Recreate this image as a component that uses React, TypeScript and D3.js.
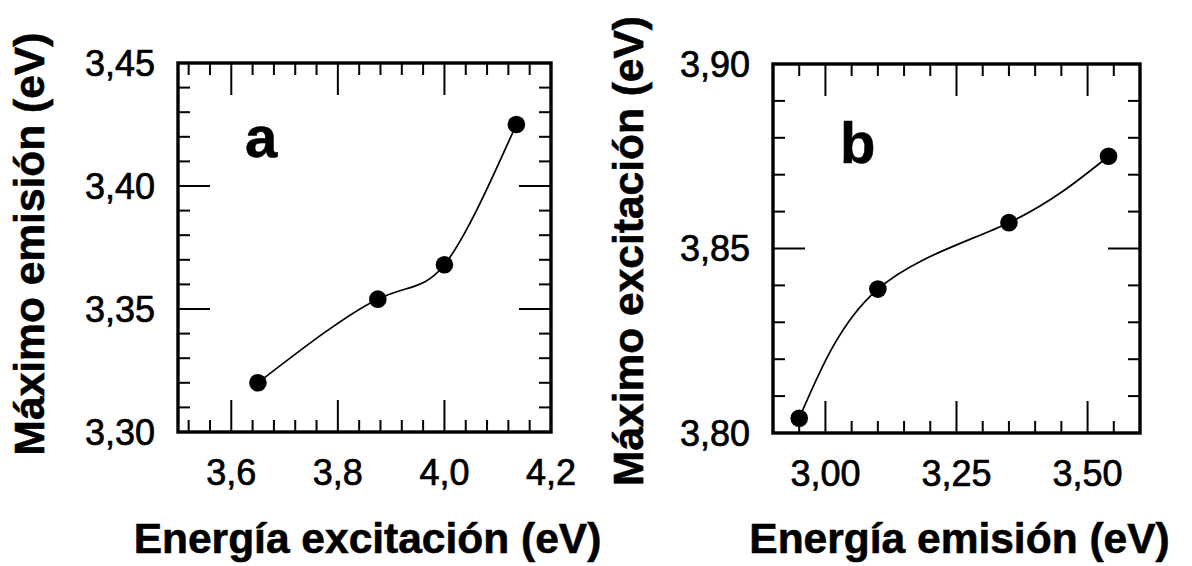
import React from "react";
import * as d3 from "d3";

// Panel a data
const excitacionA = [3.65, 3.875, 4.0, 4.135];
const emisionA = [3.32, 3.354, 3.368, 3.425];
// Panel b data
const emisionB = [2.95, 3.1, 3.35, 3.54];
const excitacionB = [3.804, 3.839, 3.857, 3.875];

// Tick values
const xMajorA = [3.6, 3.8, 4.0, 4.2];
const xMinorA = [3.52, 3.56, 3.64, 3.68, 3.72, 3.76, 3.84, 3.88, 3.92, 3.96, 4.04, 4.08, 4.12, 4.16];
const yMajorA = [3.3, 3.35, 3.4, 3.45];
const yMinorA = [3.31, 3.32, 3.33, 3.34, 3.36, 3.37, 3.38, 3.39, 3.41, 3.42, 3.43, 3.44];
const xMajorB = [3.0, 3.25, 3.5];
const xMinorB = [2.95, 3.05, 3.1, 3.15, 3.2, 3.3, 3.35, 3.4, 3.45, 3.55];
const yMajorB = [3.8, 3.85, 3.9];
const yMinorB = [3.81, 3.82, 3.83, 3.84, 3.86, 3.87, 3.88, 3.89];

const FONT = "'Liberation Sans', Arial, Helvetica, sans-serif";

type PanelProps = {
  xs: number[];
  ys: number[];
  xDomain: [number, number];
  yDomain: [number, number];
  xRange: [number, number];
  yRange: [number, number];
  xMajor: number[];
  xMinor: number[];
  yMajor: number[];
  yMinor: number[];
  xDigits: number;
  yDigits: number;
  xTitle: string;
  yTitle: string;
  yTitleX: number;
  yTitleY: number;
  xTitleY: number;
  label: string;
  labelX: number;
  labelY: number;
};

function fmt(v: number, d: number) {
  return v.toFixed(d).replace(".", ",");
}

function Panel(p: PanelProps) {
  const x = d3.scaleLinear().domain(p.xDomain).range(p.xRange);
  const y = d3.scaleLinear().domain(p.yDomain).range(p.yRange);
  const [x0, x1] = p.xRange;
  const [y0, y1] = p.yRange; // y0 bottom, y1 top
  const MAJ = 32;
  const MIN = 12;
  const line = d3
    .line<number>()
    .x((_, i) => x(p.xs[i]))
    .y((d) => y(d))
    .curve(d3.curveNatural);
  const ticks: JSX.Element[] = [];
  p.xMajor.forEach((v, i) => {
    const px = x(v);
    ticks.push(<line key={"xM" + i} x1={px} x2={px} y1={y0} y2={y0 - MAJ} />);
    ticks.push(<line key={"xMt" + i} x1={px} x2={px} y1={y1} y2={y1 + MAJ} />);
  });
  p.xMinor.forEach((v, i) => {
    const px = x(v);
    ticks.push(<line key={"xm" + i} x1={px} x2={px} y1={y0} y2={y0 - MIN} />);
    ticks.push(<line key={"xmt" + i} x1={px} x2={px} y1={y1} y2={y1 + MIN} />);
  });
  p.yMajor.forEach((v, i) => {
    const py = y(v);
    ticks.push(<line key={"yM" + i} x1={x0} x2={x0 + MAJ} y1={py} y2={py} />);
    ticks.push(<line key={"yMr" + i} x1={x1} x2={x1 - MAJ} y1={py} y2={py} />);
  });
  p.yMinor.forEach((v, i) => {
    const py = y(v);
    ticks.push(<line key={"ym" + i} x1={x0} x2={x0 + MIN} y1={py} y2={py} />);
    ticks.push(<line key={"ymr" + i} x1={x1} x2={x1 - MIN} y1={py} y2={py} />);
  });
  const cx = (x0 + x1) / 2;
  return (
    <g fontFamily={FONT} fill="#000">
      <g stroke="#000" strokeWidth={2}>{ticks}</g>
      <rect x={x0} y={y1} width={x1 - x0} height={y0 - y1} fill="none" stroke="#000" strokeWidth={3.4} />
      <path d={line(p.ys) || ""} fill="none" stroke="#000" strokeWidth={1.7} />
      {p.ys.map((v, i) => (
        <circle key={"pt" + i} cx={x(p.xs[i])} cy={y(v)} r={8.8} fill="#000" />
      ))}
      <g stroke="#000" strokeWidth={0.7}>
        {p.xMajor.map((v, i) => (
          <text key={"xl" + i} x={x(v)} y={y0 + 53} fontSize={36} textAnchor="middle">
            {fmt(v, p.xDigits)}
          </text>
        ))}
        {p.yMajor.map((v, i) => (
          <text key={"yl" + i} x={x0 - 23} y={y(v)} dy="0.36em" fontSize={36} textAnchor="end">
            {fmt(v, p.yDigits)}
          </text>
        ))}
      </g>
      <g stroke="#000" strokeWidth={0.6}>
        <text x={cx + 3} y={p.xTitleY} fontSize={42.5} fontWeight="bold" textAnchor="middle">
          {p.xTitle}
        </text>
        <text
          transform={`translate(${p.yTitleX},${p.yTitleY}) rotate(-90)`}
          fontSize={42.5}
          fontWeight="bold"
          textAnchor="middle"
        >
          {p.yTitle}
        </text>
        <text x={p.labelX} y={p.labelY} fontSize={58} fontWeight="bold">
          {p.label}
        </text>
      </g>
    </g>
  );
}

export default function App() {
  return (
    <svg
      width={1192}
      height={566}
      style={{ position: "absolute", left: 0, top: 0, background: "#fff" }}
    >
      <rect width={1192} height={566} fill="#fff" />
      <Panel
        xs={excitacionA}
        ys={emisionA}
        xDomain={[3.5, 4.2]}
        yDomain={[3.3, 3.45]}
        xRange={[178, 551]}
        yRange={[432, 63]}
        xMajor={xMajorA}
        xMinor={xMinorA}
        yMajor={yMajorA}
        yMinor={yMinorA}
        xDigits={1}
        yDigits={2}
        xTitle="Energía excitación (eV)"
        yTitle="Máximo emisión (eV)"
        yTitleX={44}
        yTitleY={244}
        xTitleY={553}
        label="a"
        labelX={245}
        labelY={157}
      />
      <Panel
        xs={emisionB}
        ys={excitacionB}
        xDomain={[2.9, 3.6]}
        yDomain={[3.8, 3.9]}
        xRange={[773, 1140]}
        yRange={[433, 64]}
        xMajor={xMajorB}
        xMinor={xMinorB}
        yMajor={yMajorB}
        yMinor={yMinorB}
        xDigits={2}
        yDigits={2}
        xTitle="Energía emisión (eV)"
        yTitle="Máximo excitación (eV)"
        yTitleX={643}
        yTitleY={251}
        xTitleY={553}
        label="b"
        labelX={840}
        labelY={163}
      />
    </svg>
  );
}
